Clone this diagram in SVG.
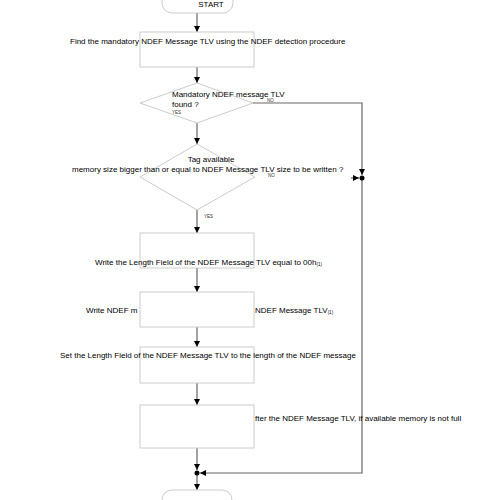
<svg xmlns="http://www.w3.org/2000/svg" width="500" height="500" viewBox="0 0 500 500">
<defs>
<style>
.box{fill:#fff;stroke:#cccccc;stroke-width:1}
.term{fill:#fff;stroke:#cccccc;stroke-width:1}
.con{fill:none;stroke:#666666;stroke-width:1.2}
.t{font-family:"Liberation Sans",Arial,sans-serif;font-size:8px;fill:#000}
.s{font-family:"Liberation Sans",Arial,sans-serif;font-size:4.5px;fill:#333}
.m{text-anchor:middle}
</style>
<marker id="ah" viewBox="0 0 6 6" markerWidth="6" markerHeight="6" refX="6" refY="3" orient="auto" markerUnits="userSpaceOnUse">
<path d="M0,0 L6,3 L0,6 z" fill="#000"/>
</marker>
</defs>
<rect width="500" height="500" fill="#fff"/>

<g id="connectors">
<line class="con" x1="197" y1="13" x2="197" y2="32" marker-end="url(#ah)"/>
<line class="con" x1="197" y1="67" x2="197" y2="83" marker-end="url(#ah)"/>
<line class="con" x1="197" y1="123" x2="197" y2="144" marker-end="url(#ah)"/>
<line class="con" x1="197" y1="210" x2="197" y2="233" marker-end="url(#ah)"/>
<line class="con" x1="197" y1="268" x2="197" y2="292" marker-end="url(#ah)"/>
<line class="con" x1="197" y1="327" x2="197" y2="347" marker-end="url(#ah)"/>
<line class="con" x1="197" y1="383" x2="197" y2="405" marker-end="url(#ah)"/>
<line class="con" x1="197" y1="448" x2="197" y2="470" marker-end="url(#ah)"/>
<line class="con" x1="197" y1="475" x2="197" y2="490" marker-end="url(#ah)"/>
<polyline class="con" points="253,103 362,103 362,175" marker-end="url(#ah)"/>
<line class="con" x1="351" y1="178" x2="359" y2="178" marker-end="url(#ah)"/>
<polyline class="con" points="362,178 362,473 200,473" marker-end="url(#ah)"/>
<circle cx="362" cy="178" r="2.5" fill="#000"/>
<circle cx="197" cy="473" r="2.5" fill="#000"/>
</g>

<g id="start">
<rect class="term" x="162" y="-17" width="71" height="30" rx="10"/>
<text class="t m" x="211" y="7">START</text>
</g>

<g id="find">
<rect class="box" x="140" y="32" width="114" height="35"/>
<text class="t" x="70" y="44">Find the mandatory NDEF Message TLV using the NDEF detection procedure</text>
</g>

<g id="found">
<polygon class="box" points="197,83 253,103 197,123 140,103"/>
<text class="t" x="172" y="97">Mandatory NDEF message TLV</text>
<text class="t" x="172" y="107">found ?</text>
<text class="s" x="172" y="114">YES</text>
<text class="s" x="267" y="102">NO</text>
</g>

<g id="memory">
<polygon class="box" points="197,144 255,177 197,210 140,177"/>
<text class="t m" x="211" y="162">Tag available</text>
<text class="t" x="72" y="172">memory size bigger than or equal to NDEF Message TLV size to be written ?</text>
<text class="s" x="268" y="177">NO</text>
<text class="s" x="204" y="218">YES</text>
</g>

<g id="length0">
<rect class="box" x="140" y="233" width="114" height="35"/>
<text class="t" x="95" y="265">Write the Length Field of the NDEF Message TLV equal to 00h<tspan font-size="4.5px" dy="1">(1)</tspan></text>
</g>

<g id="writemsg">
<text class="t" x="86" y="313">Write NDEF m</text>
<text class="t" x="255" y="313">NDEF Message TLV<tspan font-size="4.5px" dy="1">(1)</tspan></text>
<rect class="box" x="140" y="292" width="114" height="35"/>
</g>

<g id="setlength">
<rect class="box" x="140" y="347" width="114" height="36"/>
<text class="t" x="60" y="358">Set the Length Field of the NDEF Message TLV to the length of the NDEF message</text>
</g>

<g id="terminator">
<text class="t" x="255" y="421">fter the NDEF Message TLV, if available memory is not full</text>
<rect class="box" x="140" y="405" width="114" height="43"/>
</g>

<g id="end">
<rect class="term" x="162" y="490" width="70" height="30" rx="10"/>
</g>
</svg>
